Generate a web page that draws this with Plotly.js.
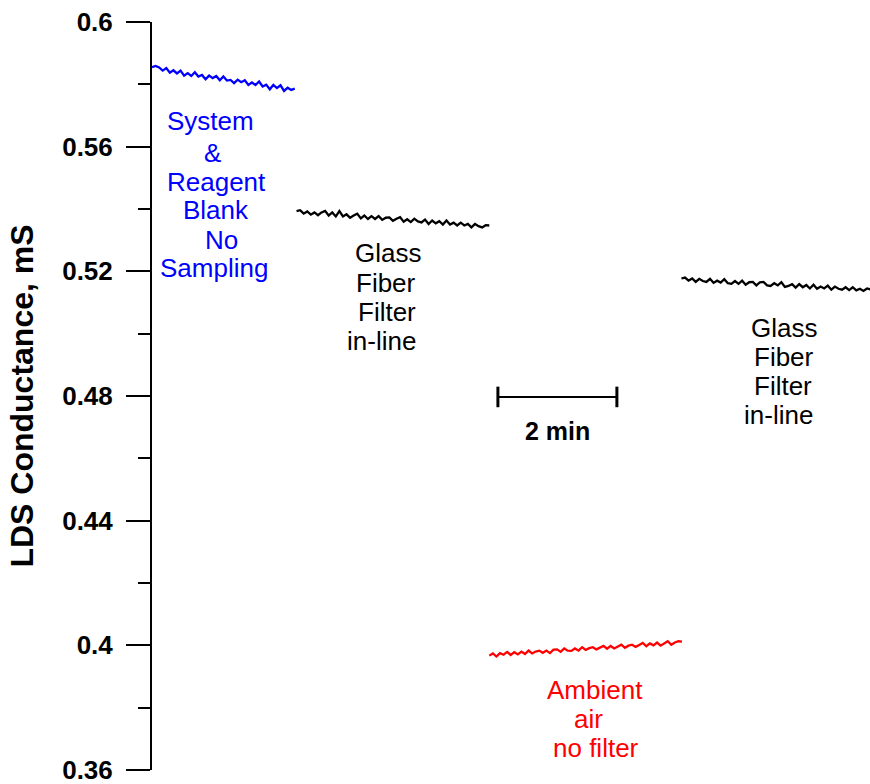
<!DOCTYPE html>
<html>
<head>
<meta charset="utf-8">
<script src="https://cdn.plot.ly/plotly-3.0.1.min.js"></script>
<style>
  html, body { margin: 0; padding: 0; background: #ffffff; }
  #chart { width: 870px; height: 784px; }
</style>
</head>
<body>
<div id="chart"></div>
<script>
// Detector conductance (mS) recorded every 0.06 min for each sampling condition
const sampleStep = 0.06; // minutes between readings

const blankStart = 0.0;
const blankVals = [
  0.5855, 0.5859, 0.5854, 0.5844, 0.5852, 0.5837, 0.5845, 0.5835, 0.5844, 0.5828,
  0.5836, 0.5827, 0.5839, 0.5825, 0.5830, 0.5816, 0.5828, 0.5820, 0.5827, 0.5813,
  0.5825, 0.5812, 0.5814, 0.5804, 0.5815, 0.5807, 0.5813, 0.5798, 0.5806, 0.5798,
  0.5809, 0.5793, 0.5799, 0.5784, 0.5798, 0.5788, 0.5797, 0.5779, 0.5789, 0.5782,
  0.5786
];

const glass1Start = 2.43;
const glass1Vals = [
  0.5393, 0.5396, 0.5385, 0.5392, 0.5382, 0.5389, 0.5380, 0.5389, 0.5394, 0.5379,
  0.5389, 0.5376, 0.5393, 0.5376, 0.5383, 0.5372, 0.5379, 0.5385, 0.5370, 0.5379,
  0.5368, 0.5377, 0.5368, 0.5377, 0.5365, 0.5372, 0.5373, 0.5362, 0.5369, 0.5374,
  0.5359, 0.5367, 0.5358, 0.5369, 0.5360, 0.5357, 0.5366, 0.5352, 0.5363, 0.5354,
  0.5361, 0.5350, 0.5363, 0.5350, 0.5356, 0.5347, 0.5356, 0.5347, 0.5352, 0.5341,
  0.5352, 0.5345, 0.5341, 0.5348, 0.5347
];

const ambientStart = 5.67;
const ambientVals = [
  0.3967, 0.3974, 0.3964, 0.3975, 0.3970, 0.3979, 0.3969, 0.3978, 0.3971, 0.3980,
  0.3972, 0.3983, 0.3974, 0.3980, 0.3983, 0.3976, 0.3983, 0.3975, 0.3986, 0.3987,
  0.3979, 0.3990, 0.3983, 0.3982, 0.3990, 0.3983, 0.3994, 0.3985, 0.3991, 0.3994,
  0.3987, 0.3993, 0.3998, 0.3989, 0.3998, 0.3990, 0.3997, 0.4002, 0.3992, 0.3999,
  0.4002, 0.3995, 0.4001, 0.4008, 0.3997, 0.4006, 0.4000, 0.4009, 0.3999, 0.4006,
  0.4013, 0.4002, 0.4009, 0.4013, 0.4012
];

const glass2Start = 8.90;
const glass2Vals = [
  0.5177, 0.5180, 0.5170, 0.5177, 0.5166, 0.5176, 0.5169, 0.5166, 0.5176, 0.5163,
  0.5170, 0.5164, 0.5175, 0.5162, 0.5160, 0.5169, 0.5160, 0.5170, 0.5157, 0.5165,
  0.5166, 0.5155, 0.5165, 0.5166, 0.5155, 0.5153, 0.5162, 0.5155, 0.5165, 0.5150,
  0.5153, 0.5159, 0.5148, 0.5159, 0.5149, 0.5156, 0.5145, 0.5157, 0.5144, 0.5151,
  0.5145, 0.5154, 0.5141, 0.5151, 0.5144, 0.5141, 0.5149, 0.5140, 0.5149, 0.5139,
  0.5144, 0.5137, 0.5145, 0.5142
];

// Axis ticks
const majorTicks = [0.36, 0.40, 0.44, 0.48, 0.52, 0.56, 0.60];
const majorLabels = ['0.36', '0.4', '0.44', '0.48', '0.52', '0.56', '0.6'];
const minorTicks = [0.38, 0.42, 0.46, 0.50, 0.54, 0.58];

// Scale bar: 2 minutes of elapsed time
const barStart = 5.815;
const barLength = 2;
const barLevel = 0.4797;
const barLabel = '2 min';

const FONT = '"Liberation Sans", Arial, Helvetica, sans-serif';

function segment(vals, start, color) {
  return {
    type: 'scatter',
    mode: 'lines',
    x0: start,
    dx: sampleStep,
    y: vals,
    line: { color: color, width: 2.3 },
    hoverinfo: 'skip',
    showlegend: false
  };
}

const traces = [
  segment(blankVals, blankStart, '#0000ff'),
  segment(glass1Vals, glass1Start, '#000000'),
  segment(ambientVals, ambientStart, '#ff0000'),
  segment(glass2Vals, glass2Start, '#000000')
];

// Multi-line labels, one annotation per line for tight line spacing
function labelLines(lines, color) {
  return lines.map(function (l) {
    return {
      x: l[1], y: l[2], xref: 'x', yref: 'y',
      text: l[0], showarrow: false,
      xanchor: 'center', yanchor: 'middle',
      font: { family: FONT, size: 26, color: color }
    };
  });
}

const annotations = [].concat(
  labelLines([
    ['System', 0.99, 0.5682],
    ['&', 1.01, 0.5580],
    ['Reagent', 1.08, 0.5488],
    ['Blank', 1.08, 0.5397],
    ['No', 1.16, 0.5302],
    ['Sampling', 1.04, 0.5211]
  ], '#0000ff'),
  labelLines([
    ['Glass', 3.96, 0.5259],
    ['Fiber', 3.93, 0.5163],
    ['Filter', 3.95, 0.5070],
    ['in-line', 3.86, 0.4976]
  ], '#000000'),
  labelLines([
    ['Glass', 10.62, 0.5018],
    ['Fiber', 10.62, 0.4925],
    ['Filter', 10.60, 0.4832],
    ['in-line', 10.53, 0.4739]
  ], '#000000'),
  labelLines([
    ['Ambient', 7.45, 0.3857],
    ['air', 7.33, 0.3764],
    ['no filter', 7.47, 0.3671]
  ], '#ff0000'),
  [{
    x: barStart + barLength / 2, y: 0.4688, xref: 'x', yref: 'y',
    text: barLabel, showarrow: false, xanchor: 'center', yanchor: 'middle',
    font: { family: FONT, size: 25, color: '#000000', weight: 'bold' }
  }]
);

const capHalf = 0.0033;
const shapes = [
  { type: 'line', xref: 'x', yref: 'y', x0: barStart, x1: barStart + barLength,
    y0: barLevel, y1: barLevel, line: { color: '#000000', width: 2 } },
  { type: 'line', xref: 'x', yref: 'y', x0: barStart, x1: barStart,
    y0: barLevel - capHalf, y1: barLevel + capHalf, line: { color: '#000000', width: 3 } },
  { type: 'line', xref: 'x', yref: 'y', x0: barStart + barLength, x1: barStart + barLength,
    y0: barLevel - capHalf, y1: barLevel + capHalf, line: { color: '#000000', width: 3 } }
];

const layout = {
  width: 870,
  height: 784,
  margin: { l: 152, r: 0, t: 22, b: 14, pad: 0 },
  paper_bgcolor: '#ffffff',
  plot_bgcolor: '#ffffff',
  showlegend: false,
  xaxis: {
    range: [0, 12.07],
    visible: false,
    showgrid: false,
    zeroline: false
  },
  yaxis: {
    range: [0.36, 0.60],
    showgrid: false,
    zeroline: false,
    showline: true,
    linecolor: '#000000',
    linewidth: 2,
    ticks: 'outside',
    ticklen: 24,
    tickwidth: 2,
    tickcolor: '#000000',
    tickvals: majorTicks,
    ticktext: majorLabels,
    ticklabelstandoff: 8,
    ticklabeloverflow: 'allow',
    tickfont: { family: FONT, size: 26, color: '#000000', weight: 'bold' },
    minor: {
      tickvals: minorTicks,
      ticks: 'outside',
      ticklen: 12,
      tickwidth: 2,
      tickcolor: '#000000',
      showgrid: false
    },
    title: {
      text: 'LDS Conductance, mS',
      standoff: 19,
      font: { family: FONT, size: 32, color: '#000000', weight: 'bold' }
    }
  },
  annotations: annotations,
  shapes: shapes
};

Plotly.newPlot('chart', traces, layout, { displayModeBar: false, staticPlot: true });
</script>
</body>
</html>
